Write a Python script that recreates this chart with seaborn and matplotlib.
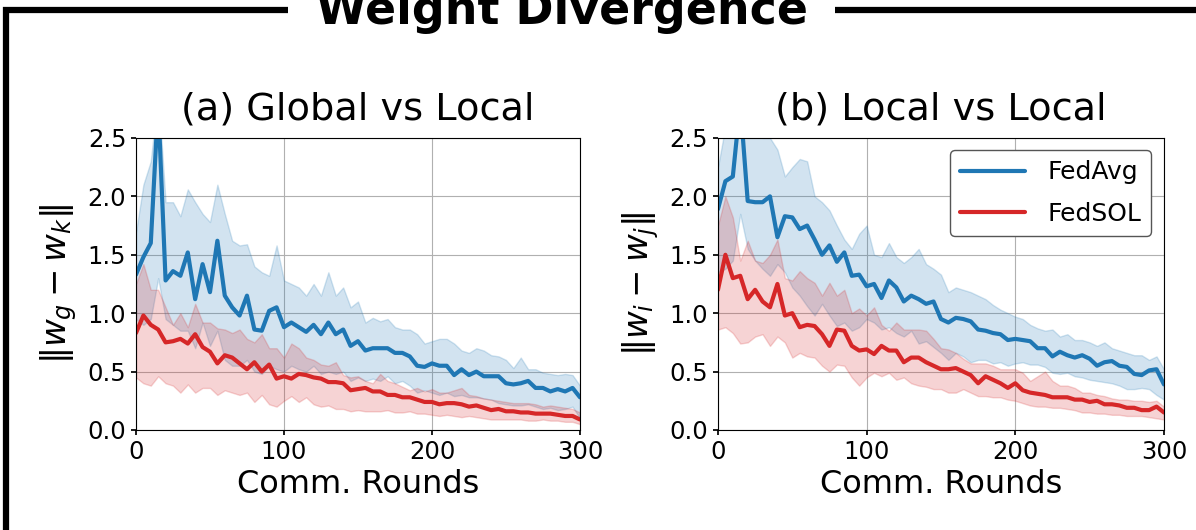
import matplotlib
matplotlib.use("Agg")
import matplotlib.pyplot as plt
import seaborn as sns
from matplotlib.patches import Rectangle

# ---------------- data ----------------
rounds = list(range(0, 301, 5))

# (a) Global vs Local
a_avg = [1.33, 1.48, 1.60, 2.80, 1.28, 1.36, 1.32, 1.52, 1.12, 1.42, 1.18, 1.62, 1.15,
         1.05, 0.98, 1.15, 0.86, 0.85, 1.02, 1.05, 0.88, 0.92, 0.88, 0.84, 0.90, 0.82,
         0.92, 0.82, 0.86, 0.72, 0.76, 0.68, 0.70, 0.70, 0.70, 0.66, 0.66, 0.63, 0.55,
         0.54, 0.57, 0.55, 0.55, 0.47, 0.52, 0.47, 0.50, 0.46, 0.46, 0.46, 0.40, 0.39,
         0.40, 0.42, 0.36, 0.36, 0.33, 0.35, 0.33, 0.36, 0.28]
a_avg_hi = [1.69, 2.10, 2.30, 2.90, 1.95, 1.95, 1.83, 2.06, 1.95, 1.85, 1.78, 2.10, 1.85,
            1.62, 1.58, 1.59, 1.40, 1.35, 1.32, 1.58, 1.28, 1.25, 1.22, 1.15, 1.25, 1.15,
            1.35, 1.15, 1.22, 1.05, 1.10, 0.92, 0.96, 0.93, 0.95, 0.88, 0.86, 0.86, 0.82,
            0.74, 0.76, 0.78, 0.78, 0.74, 0.68, 0.66, 0.70, 0.68, 0.64, 0.63, 0.60, 0.53,
            0.62, 0.52, 0.52, 0.49, 0.48, 0.47, 0.48, 0.47, 0.38]
a_avg_lo = [0.95, 0.90, 0.95, 1.30, 0.95, 0.90, 0.85, 0.85, 0.70, 0.92, 0.72, 0.85, 0.60,
            0.55, 0.55, 0.60, 0.50, 0.48, 0.55, 0.52, 0.50, 0.55, 0.52, 0.50, 0.55, 0.48,
            0.50, 0.48, 0.50, 0.42, 0.45, 0.42, 0.44, 0.42, 0.46, 0.40, 0.42, 0.38, 0.32,
            0.34, 0.32, 0.30, 0.32, 0.29, 0.30, 0.28, 0.28, 0.27, 0.26, 0.23, 0.22, 0.21,
            0.21, 0.22, 0.20, 0.18, 0.19, 0.17, 0.18, 0.20, 0.10]
a_sol = [0.83, 0.98, 0.90, 0.86, 0.75, 0.76, 0.78, 0.74, 0.82, 0.71, 0.67, 0.57, 0.64,
         0.62, 0.57, 0.52, 0.58, 0.50, 0.56, 0.44, 0.46, 0.44, 0.48, 0.47, 0.45, 0.44,
         0.41, 0.41, 0.40, 0.34, 0.35, 0.36, 0.33, 0.33, 0.30, 0.30, 0.28, 0.28, 0.26,
         0.24, 0.24, 0.22, 0.23, 0.23, 0.22, 0.20, 0.21, 0.19, 0.17, 0.18, 0.16, 0.16,
         0.15, 0.15, 0.14, 0.14, 0.14, 0.13, 0.12, 0.12, 0.09]
a_sol_hi = [1.25, 1.42, 1.20, 1.20, 1.05, 0.90, 1.00, 0.88, 1.08, 0.92, 0.92, 0.87, 0.86,
            0.83, 0.86, 0.78, 0.75, 0.82, 0.70, 0.70, 0.62, 0.74, 0.70, 0.62, 0.60, 0.56,
            0.55, 0.58, 0.47, 0.45, 0.46, 0.42, 0.40, 0.48, 0.42, 0.40, 0.37, 0.34, 0.36,
            0.33, 0.35, 0.32, 0.32, 0.34, 0.36, 0.30, 0.29, 0.27, 0.26, 0.25, 0.24, 0.23,
            0.23, 0.23, 0.22, 0.20, 0.21, 0.20, 0.19, 0.18, 0.15]
a_sol_lo = [0.45, 0.40, 0.38, 0.46, 0.40, 0.38, 0.32, 0.39, 0.32, 0.36, 0.36, 0.30, 0.34,
            0.32, 0.30, 0.32, 0.24, 0.30, 0.22, 0.20, 0.25, 0.29, 0.24, 0.28, 0.22, 0.20,
            0.21, 0.18, 0.18, 0.16, 0.17, 0.16, 0.16, 0.16, 0.17, 0.15, 0.15, 0.16, 0.14,
            0.14, 0.13, 0.12, 0.13, 0.12, 0.11, 0.12, 0.11, 0.10, 0.09, 0.09, 0.09, 0.09,
            0.09, 0.08, 0.08, 0.09, 0.08, 0.08, 0.07, 0.07, 0.05]

# (b) Local vs Local
b_avg = [1.89, 2.13, 2.17, 2.80, 1.96, 1.95, 1.95, 2.00, 1.65, 1.83, 1.82, 1.72, 1.75,
         1.63, 1.50, 1.58, 1.44, 1.52, 1.32, 1.33, 1.23, 1.25, 1.13, 1.28, 1.22, 1.10,
         1.15, 1.12, 1.08, 1.10, 0.95, 0.92, 0.96, 0.95, 0.93, 0.86, 0.85, 0.83, 0.82,
         0.77, 0.78, 0.77, 0.76, 0.70, 0.70, 0.63, 0.67, 0.64, 0.62, 0.64, 0.61, 0.55,
         0.58, 0.59, 0.55, 0.54, 0.48, 0.47, 0.51, 0.52, 0.39]
b_avg_hi = [2.25, 2.60, 2.60, 2.70, 2.60, 2.55, 2.50, 2.50, 2.40, 2.17, 2.25, 2.32, 2.30,
            2.00, 1.95, 1.88, 1.75, 1.63, 1.55, 1.68, 1.75, 1.50, 1.48, 1.60, 1.48, 1.43,
            1.48, 1.55, 1.42, 1.38, 1.33, 1.18, 1.22, 1.20, 1.18, 1.15, 1.12, 1.07, 1.03,
            1.00, 0.97, 0.95, 0.90, 0.87, 0.85, 0.86, 0.80, 0.82, 0.77, 0.77, 0.75, 0.72,
            0.75, 0.70, 0.68, 0.66, 0.64, 0.64, 0.60, 0.63, 0.52]
b_avg_lo = [1.35, 1.38, 1.45, 1.85, 1.55, 1.45, 1.38, 1.32, 1.42, 1.35, 1.22, 1.15, 1.06,
            0.98, 1.08, 0.98, 0.89, 0.92, 0.85, 0.88, 0.95, 0.92, 0.86, 0.88, 0.83, 0.80,
            0.85, 0.74, 0.76, 0.71, 0.66, 0.60, 0.66, 0.63, 0.58, 0.60, 0.60, 0.57, 0.58,
            0.55, 0.57, 0.58, 0.56, 0.56, 0.54, 0.49, 0.48, 0.49, 0.46, 0.45, 0.43, 0.42,
            0.41, 0.40, 0.38, 0.35, 0.35, 0.36, 0.35, 0.30, 0.26]
b_sol = [1.20, 1.50, 1.30, 1.32, 1.12, 1.20, 1.10, 1.05, 1.25, 0.98, 1.00, 0.88, 0.90,
         0.89, 0.82, 0.72, 0.86, 0.85, 0.72, 0.68, 0.69, 0.65, 0.72, 0.68, 0.68, 0.58,
         0.62, 0.62, 0.58, 0.55, 0.52, 0.52, 0.53, 0.50, 0.47, 0.40, 0.46, 0.43, 0.40,
         0.36, 0.40, 0.34, 0.32, 0.31, 0.30, 0.28, 0.28, 0.28, 0.26, 0.26, 0.24, 0.25,
         0.22, 0.22, 0.21, 0.19, 0.19, 0.17, 0.17, 0.20, 0.15]
b_sol_hi = [1.75, 2.00, 1.82, 1.45, 1.62, 1.45, 1.43, 1.50, 1.63, 1.30, 1.28, 1.36, 1.30,
            1.26, 1.15, 1.26, 1.15, 1.20, 1.00, 1.04, 0.98, 1.05, 0.90, 0.85, 0.92, 0.86,
            0.86, 0.86, 0.85, 0.78, 0.70, 0.69, 0.66, 0.61, 0.57, 0.57, 0.57, 0.55, 0.52,
            0.52, 0.52, 0.49, 0.42, 0.46, 0.50, 0.42, 0.38, 0.38, 0.36, 0.32, 0.32, 0.30,
            0.29, 0.27, 0.26, 0.26, 0.25, 0.25, 0.24, 0.25, 0.20]
b_sol_lo = [0.86, 0.88, 0.83, 0.74, 0.75, 0.80, 0.82, 0.72, 0.80, 0.75, 0.62, 0.66, 0.63,
            0.62, 0.55, 0.50, 0.56, 0.55, 0.45, 0.38, 0.45, 0.49, 0.46, 0.49, 0.43, 0.45,
            0.40, 0.38, 0.37, 0.35, 0.35, 0.32, 0.32, 0.35, 0.32, 0.29, 0.29, 0.28, 0.28,
            0.26, 0.25, 0.23, 0.21, 0.20, 0.20, 0.19, 0.19, 0.18, 0.17, 0.15, 0.15, 0.14,
            0.14, 0.13, 0.13, 0.12, 0.12, 0.12, 0.11, 0.10, 0.09]

methods = ["FedAvg", "FedSOL"]
colors = ["#1f77b4", "#d62728"]
titles = ["(a) Global vs Local", "(b) Local vs Local"]
ylabels = [r"$\|w_g - w_k\|$", r"$\|w_i - w_j\|$"]
xticks = [0, 100, 200, 300]
yticks = [0.0, 0.5, 1.0, 1.5, 2.0, 2.5]

# ---------------- style ----------------
sns.set_theme(style="ticks", rc={
    "axes.grid": True,
    "grid.color": "#b0b0b0",
    "grid.linewidth": 0.8,
    "axes.edgecolor": "black",
    "axes.linewidth": 0.8,
    "xtick.color": "black",
    "ytick.color": "black",
    "xtick.major.size": 3.5,
    "ytick.major.size": 3.5,
    "text.color": "black",
    "axes.labelcolor": "black",
})
plt.rcParams["font.family"] = ["DejaVu Sans"]
plt.rcParams["mathtext.fontset"] = "dejavusans"

fig = plt.figure(figsize=(11.96, 5.30), dpi=100)
ax1 = fig.add_axes([0.1137, 0.1887, 0.3712, 0.551])
ax2 = fig.add_axes([0.6003, 0.1887, 0.3729, 0.551])

panels = [
    (ax1, [(a_avg, a_avg_lo, a_avg_hi), (a_sol, a_sol_lo, a_sol_hi)]),
    (ax2, [(b_avg, b_avg_lo, b_avg_hi), (b_sol, b_sol_lo, b_sol_hi)]),
]

for i, (ax, series) in enumerate(panels):
    for name, color, (mean, lo, hi) in zip(methods, colors, series):
        ax.fill_between(rounds, lo, hi, color=color, alpha=0.2)
        sns.lineplot(x=rounds, y=mean, ax=ax, color=color, linewidth=3,
                     label=name if i == 1 else None)
    ax.set_xlim(0, 300)
    ax.set_ylim(0, 2.5)
    ax.set_xticks(xticks)
    ax.set_yticks(yticks)
    ax.tick_params(labelsize=17.5)
    ax.set_title(titles[i], fontsize=27.5, pad=13)
    ax.set_xlabel("Comm. Rounds", fontsize=23)
    ax.set_ylabel(ylabels[i], fontsize=24.5, labelpad=6)
    for s in ax.spines.values():
        s.set_visible(True)

leg = ax2.legend(loc="upper right", fontsize=18, handlelength=2.6,
                 handletextpad=0.9, labelspacing=0.7,
                 frameon=True, fancybox=True, edgecolor="#555555", framealpha=1)
if ax1.get_legend() is not None:
    ax1.get_legend().remove()

# outer frame and figure title
frame = Rectangle((0.005, -0.0019), 0.9967, 0.9829, transform=fig.transFigure,
                  fill=False, edgecolor="black", linewidth=4.5, zorder=1)
fig.add_artist(frame)
fig.text(0.4695, 0.9547, "Weight Divergence", ha="center", va="baseline",
         fontsize=33, fontweight="bold", zorder=5,
         bbox=dict(facecolor="white", edgecolor="none", pad=20))

fig.savefig("out.png", dpi=100)
